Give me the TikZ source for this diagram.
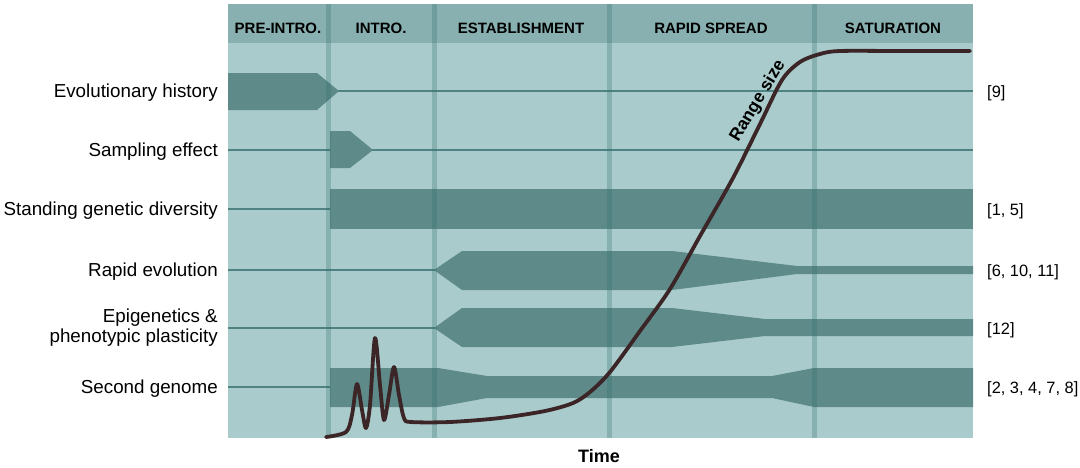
\documentclass[tikz,border=0pt]{standalone}
\usepackage{fontspec}
\setmainfont{Liberation Sans}
\usepackage{tikz}
\usetikzlibrary{positioning}
\definecolor{panelbg}{HTML}{AACBCB}
\definecolor{headbg}{HTML}{88B0B0}
\definecolor{bandteal}{HTML}{5E8A8A}
\definecolor{trackteal}{HTML}{4F8282}
\definecolor{divteal}{HTML}{2F6F6F}
\definecolor{rangebrown}{HTML}{3B2527}

\begin{document}
\begin{tikzpicture}[
    x=1pt, y=-1pt,
    phase/.style={
        anchor=base, 
        inner sep=0pt, 
        font=\bfseries\fontsize{15}{17}\selectfont
    },
    rowlbl/.style={
        anchor=base east, 
        align=right, 
        inner sep=0pt, 
        font=\fontsize{18.8}{20}\selectfont
    },
    refs/.style={
        anchor=base west, 
        inner sep=0pt, 
        font=\fontsize{16.4}{18}\selectfont
    },
    band/.style={fill=bandteal, draw=none},
    track/.style={draw=trackteal, line width=1.4pt},
    divider/.style={draw=divteal, line width=5pt, opacity=0.28},
    rangeline/.style={
        draw=rangebrown, 
        line width=3.8pt, 
        line cap=round, 
        line join=round
    }
]
\useasboundingbox (0,0) rectangle (1080,467);
% --- 背景面板 ---
\fill[panelbg] (228,4) rectangle (973,438);
\fill[headbg] (228,4) rectangle (973,43);
% --- 各列基線 ---
\foreach \y in {91,150,209,270,328,387}
    \draw[track] (228,\y) -- (973,\y);
% --- 色帶 ---
% Evolutionary history
\fill[band] (228,73) -- (317,73) -- (339,91) -- (317,110) -- (228,110) -- cycle;
% Sampling effect
\fill[band] (330,131) -- (350,131) -- (373,150) -- (350,168) -- (330,168) -- cycle;
% Standing genetic diversity
\fill[band] (330,189) rectangle (973,229);
% Rapid evolution
\fill[band] (434,270) -- (462,251) -- (672,251) -- (797,266) -- (973,266)
    -- (973,274) -- (797,274) -- (672,290) -- (462,290) -- cycle;
% Epigenetics
\fill[band] (434,328) -- (462,308) -- (672,308) -- (765,319) -- (973,319)
    -- (973,336) -- (765,336) -- (672,347) -- (462,347) -- cycle;
% Second genome
\fill[band] (330,368) -- (438,368) -- (487,376) -- (772,376) -- (814,368) -- (973,368)
    -- (973,407) -- (814,407) -- (772,398) -- (487,398) -- (438,407) -- (330,407) -- cycle;
% --- 分隔線 ---
\foreach \x in {328,434,609,814}
    \draw[divider] (\x,4) -- (\x,438);
% --- 階段標題 ---
\node[phase] (hdPre) at (278,33.3) {PRE-INTRO.};
\node[phase] (hdIntro) at (381,33.3) {INTRO.};
\node[phase] (hdEst) at (521,33.3) {ESTABLISHMENT};
\node[phase] (hdSpread) at (711,33.3) {RAPID SPREAD};
\node[phase] (hdSat) at (893,33.3) {SATURATION};
% --- 左側標籤 ---
\node[rowlbl] (lblEvo) at (218,97.5) {Evolutionary history};
\node[rowlbl] (lblSamp) at (218,156.5) {Sampling effect};
\node[rowlbl] (lblStand) at (218,215.5) {Standing genetic diversity};
\node[rowlbl] (lblRapid) at (218,276.5) {Rapid evolution};
\node[rowlbl] (lblEpi) at (218,342.5) {Epigenetics \&\\phenotypic plasticity};
\node[rowlbl] (lblGenome) at (218,393.5) {Second genome};
% --- 右側文獻 ---
\node[refs] (refEvo) at (987,97) {[9]};
\node[refs] (refStand) at (987,215) {[1, 5]};
\node[refs] (refRapid) at (987,276) {[6, 10, 11]};
\node[refs] (refEpi) at (987,334) {[12]};
\node[refs] (refGenome) at (987,393) {[2, 3, 4, 7, 8]};
% --- 分布範圍曲線 ---
\draw[rangeline] plot[smooth, tension=0.5] coordinates {
    (326,437) (346,432) (352,415) (357,384) (362,410) (366,428) (370,405)
    (375,338) (380,385) (384,420) (389,395) (394,367) (399,395) (404,418)
    (411,422) (450,422) (500,418) (545,411) (573,403) (590,392) (610,372)
    (640,331) (670,289) (700,236) (733,178) (760,124) (782,80) (800,62)
    (820,54) (840,51) (900,51) (970,51)};
\node[font=\bfseries\fontsize{17.5}{18}\selectfont, rotate=59] (rangeLbl) at (758,101) {Range size};
% --- 時間軸 ---
\node[font=\bfseries\fontsize{18}{20}\selectfont] (timeLbl) at (599,456) {Time};
\end{tikzpicture}
\end{document}
